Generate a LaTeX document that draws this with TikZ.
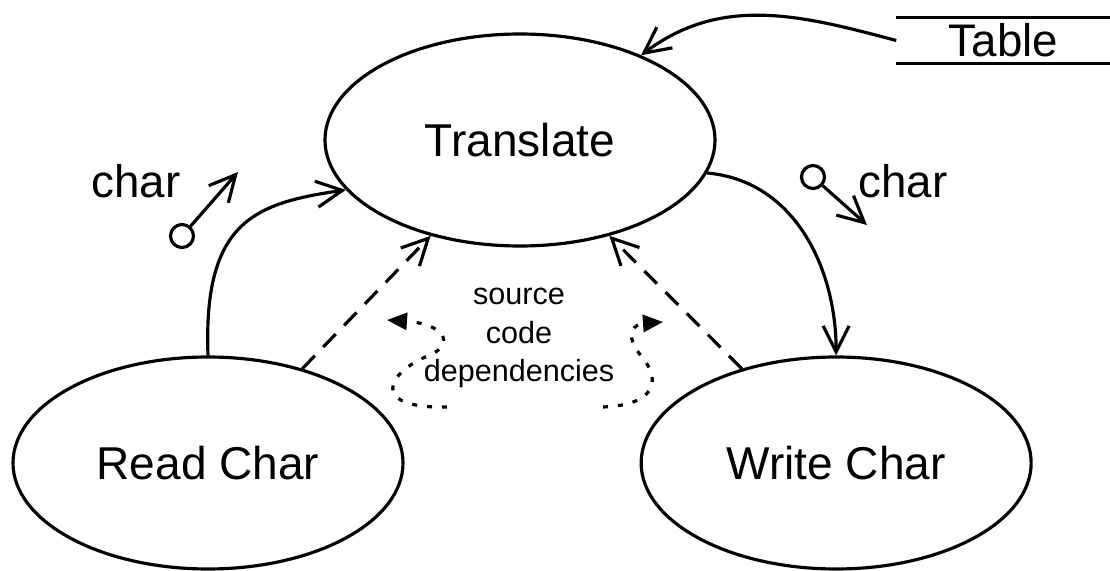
\documentclass[tikz,border=0pt]{standalone}
\usepackage{fontspec}
\setmainfont{Liberation Sans}
\usetikzlibrary{arrows.meta,positioning,shapes.geometric}
\tikzset{
  proc/.style={ellipse, draw, line width=0.9pt, minimum width=3.9cm, minimum height=2.12cm,
               inner sep=0pt, font=\fontsize{13.1}{15}\selectfont},
  lbl/.style={inner sep=0pt, font=\fontsize{13}{15}\selectfont},
  deps/.style={align=center, inner sep=0pt, font=\fontsize{8.7}{10.9}\selectfont},
  couple/.style={circle, draw, line width=0.9pt, minimum size=2.3mm, inner sep=0pt},
  flow/.style={-{Straight Barb[length=2.6mm, width=2.6mm]}, line width=0.9pt},
  dep/.style={flow, dash pattern=on 1.8mm off 1.2mm},
  dots/.style={-{Triangle[length=2mm, width=1.7mm]}, line width=0.9pt, dash pattern=on 0.5mm off 1mm},
}
\begin{document}
\begin{tikzpicture}
  \useasboundingbox (0,0) rectangle (11.10,5.71);
  \node[proc] (tr) at (5.20,4.31) {Translate};
  \node[proc] (rd) at (2.08,1.08) {Read Char};
  \node[proc, right=2.35cm of rd] (wr) {Write Char};
  \node[lbl, minimum width=2.13cm, minimum height=0.45cm] (tbl) at (10.035,5.305) {Table};
  \draw[line width=0.9pt] (tbl.north west) -- (tbl.north east) (tbl.south west) -- (tbl.south east);
  \draw[flow] (tbl.west) to[out=165, in=37] (tr.35);
  % data couples
  \draw[flow] (rd.north) .. controls (2.03,3.50) and (2.55,3.68) .. (tr.196);
  \draw[flow] (tr.350) to[out=-5, in=90] (wr.north);
  \node[couple] (c1) at (1.82,3.35) {};
  \coordinate (c1e) at (2.38,3.99);
  \draw[flow] (c1) -- (c1e);
  \node[lbl] (ch1) at (1.36,3.90) {char};
  \node[couple] (c2) at (8.13,3.94) {};
  \coordinate (c2e) at (8.67,3.46);
  \draw[flow] (c2) -- (c2e);
  \node[lbl] (ch2) at (9.03,3.90) {char};
  % source code dependencies
  \draw[dep] (rd.45) -- (tr.227);
  \draw[dep] (wr.135) -- (tr.313);
  \node[deps] (src) at (5.19,2.33) {source\\code\\dependencies};
  \coordinate (dl) at (4.47,1.64);
  \coordinate (dlt) at (3.87,2.51);
  \draw[dots] (dl) .. controls (3.70,1.62) and (3.85,1.98) .. (4.30,2.16)
    .. controls (4.55,2.27) and (4.45,2.47) .. (dlt);
  \coordinate (dr) at (6.03,1.64);
  \coordinate (drt) at (6.63,2.49);
  \draw[dots] (dr) .. controls (6.55,1.66) and (6.62,1.90) .. (6.42,2.14)
    .. controls (6.22,2.38) and (6.35,2.47) .. (drt);
\end{tikzpicture}
\end{document}
